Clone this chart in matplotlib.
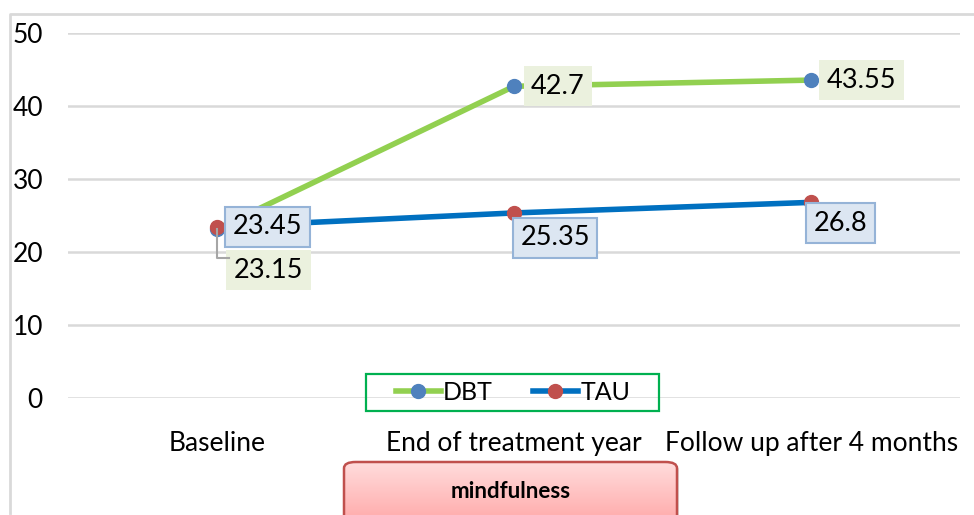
import numpy as np
import matplotlib.pyplot as plt
from matplotlib.patches import FancyBboxPatch, Rectangle
from matplotlib.lines import Line2D
from matplotlib.colors import LinearSegmentedColormap

plt.rcParams['font.family'] = ['Lato', 'DejaVu Sans']

# data
categories = ['Baseline', 'End of treatment year', 'Follow up after 4 months']
dbt = [23.15, 42.7, 43.55]
tau = [23.45, 25.35, 26.8]
yticks = [0, 10, 20, 30, 40, 50]

green = '#92D050'
blue_line = '#0070C0'
dbt_marker = '#4F81BD'
tau_marker = '#C0504D'

fig = plt.figure(figsize=(9.74, 5.15), dpi=100)
ax = fig.add_axes([68 / 974, 117 / 515, 892 / 974, 365 / 515])

x = np.arange(len(categories))
ax.plot(x, dbt, color=green, lw=4, marker='o', ms=10,
        mfc=dbt_marker, mec=dbt_marker, zorder=3, solid_capstyle='round')
ax.plot(x, tau, color=blue_line, lw=4, marker='o', ms=10,
        mfc=tau_marker, mec=tau_marker, zorder=3, solid_capstyle='round')

ax.set_xlim(-0.5, len(categories) - 0.5)
ax.set_ylim(0, 50)
ax.set_yticks(yticks)
ax.set_xticks(x)
ax.set_xticklabels(categories, fontsize=19)
ax.tick_params(axis='x', length=0, pad=24)
ax.tick_params(axis='y', length=0, pad=18, labelsize=19)
ax.grid(axis='y', color='#D9D9D9', lw=1.8)
ax.set_axisbelow(True)
for s in ax.spines.values():
    s.set_visible(False)

# data labels (offsets in pixels from each point)
green_box = dict(boxstyle='square,pad=0.28', fc='#EBF1DE', ec='none')
blue_box = dict(boxstyle='square,pad=0.28', fc='#DCE6F2', ec='#95B3D7', lw=1.5)
dbt_offsets = [(52, -41), (44, 0), (50, 0)]
tau_offsets = [(51, 0), (41, -25), (29, -21)]

for i, (v, off) in enumerate(zip(dbt, dbt_offsets)):
    ax.annotate(f'{v:g}', (x[i], v), xytext=off, textcoords='offset pixels',
                ha='center', va='center', fontsize=19.5, bbox=green_box, zorder=4)
for i, (v, off) in enumerate(zip(tau, tau_offsets)):
    ax.annotate(f'{v:g}', (x[i], v), xytext=off, textcoords='offset pixels',
                ha='center', va='center', fontsize=19.5, bbox=blue_box, zorder=5)

# leader line for the baseline DBT label
x0_px, y0_px = ax.transData.transform((x[0], dbt[0]))
pts = np.array([[x0_px, y0_px], [x0_px, y0_px - 29], [x0_px + 12, y0_px - 29]])
pts_fig = fig.transFigure.inverted().transform(pts)
fig.add_artist(Line2D(pts_fig[:, 0], pts_fig[:, 1], color='#A6A6A6', lw=1.5, zorder=2))

# legend
handles = [Line2D([], [], color=green, lw=4, marker='o', ms=10, mfc=dbt_marker, mec=dbt_marker),
           Line2D([], [], color=blue_line, lw=4, marker='o', ms=10, mfc=tau_marker, mec=tau_marker)]
fig.legend(handles, ['DBT', 'TAU'], loc='center', bbox_to_anchor=(513 / 974, 123 / 515),
           ncol=2, frameon=False, fontsize=18, handlelength=1.8, handletextpad=0.1,
           columnspacing=1.6)
fig.add_artist(Rectangle((366 / 974, 104 / 515), 293 / 974, 37 / 515,
                         transform=fig.transFigure, fill=False, ec='#00B050', lw=1.6))

# outer chart frame
fig.add_artist(Line2D([10 / 974, 10 / 974, 973 / 974], [2 / 515, 501 / 515, 501 / 515],
                      color='#D9D9D9', lw=2))

# mindfulness box with gradient
bx, by, bw, bh = 344 / 974, -12 / 515, 333 / 974, 65 / 515
shadow = FancyBboxPatch((bx + 2 / 974, by - 2 / 515), bw, bh,
                        boxstyle='round,pad=0,rounding_size=0.012',
                        transform=fig.transFigure, fc='#BFBFBF', ec='none',
                        alpha=0.5, zorder=-1)
fig.add_artist(shadow)
gax = fig.add_axes([bx, by, bw, bh], zorder=1)
gax.set_axis_off()
grad = np.linspace(0, 1, 100).reshape(-1, 1)
cmap = LinearSegmentedColormap.from_list('pink', ['#FFDCDC', '#FFA6A6'])
img = gax.imshow(grad, aspect='auto', cmap=cmap, extent=[0, 1, 0, 1], origin='upper')
gax.set_xlim(0, 1)
gax.set_ylim(0, 1)
box = FancyBboxPatch((bx, by), bw, bh, boxstyle='round,pad=0,rounding_size=0.012',
                     transform=fig.transFigure, fc='none', ec='#C0504D', lw=1.8, zorder=2)
img.set_clip_path(box)
fig.add_artist(box)
fig.text(bx + bw / 2, 24 / 515, 'mindfulness', ha='center', va='center',
         fontsize=16, fontweight='bold', zorder=3)

fig.savefig('out.png', dpi=100)
